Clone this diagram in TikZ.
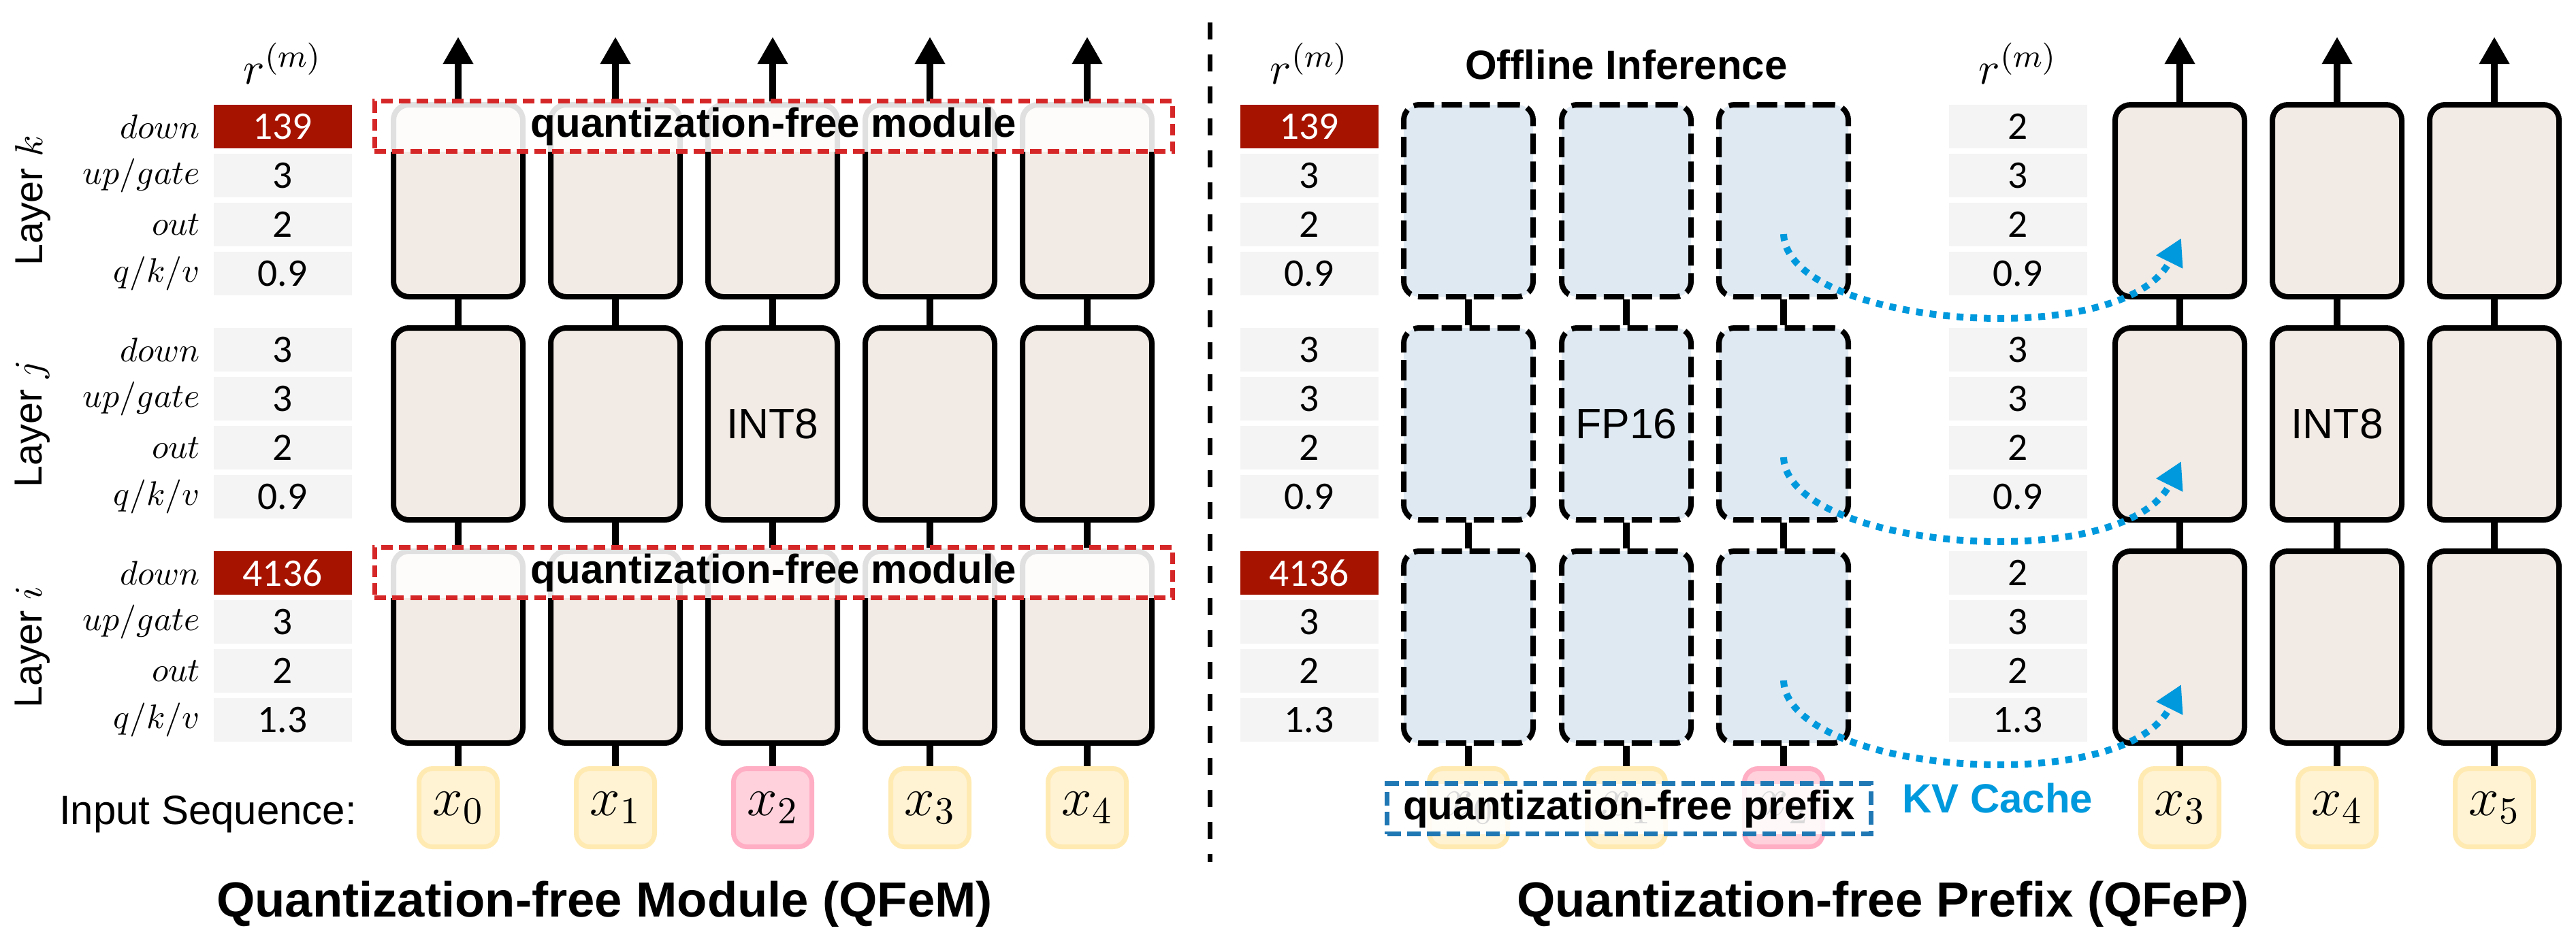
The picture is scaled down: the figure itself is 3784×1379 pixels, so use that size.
\documentclass[tikz,border=0pt]{standalone}
\usepackage{fix-cm}
\usepackage{fontspec}
\newfontfamily\arialf{Liberation Sans}
\newfontfamily\calf{Carlito}
\usetikzlibrary{arrows.meta}
\definecolor{cellgray}{HTML}{F4F4F4}
\definecolor{cellred}{HTML}{A61400}
\definecolor{blockfill}{HTML}{F2EAE4}
\definecolor{offfill}{HTML}{DFE9F2}
\definecolor{yfill}{HTML}{FFF3D4}
\definecolor{yborder}{HTML}{FFEAB2}
\definecolor{pfill}{HTML}{FFD1DC}
\definecolor{pborder}{HTML}{FFAEC4}
\definecolor{qred}{HTML}{D62728}
\definecolor{qblue}{HTML}{1F77B4}
\definecolor{kvblue}{HTML}{0099DD}
\begin{document}
\begin{tikzpicture}[x=0.2pt,y=-0.2pt,
  blk/.style={draw=black,line width=1.6pt,rounded corners=4.5pt,fill=blockfill,minimum width=38pt,minimum height=56.4pt,inner sep=0pt},
  offblk/.style={blk,fill=offfill,dash pattern=on 6pt off 2.2pt},
  conn/.style={line width=2pt},
  outarr/.style={line width=2pt,-{Triangle[length=8pt,width=8.4pt]}},
  tok/.style={draw=yborder,fill=yfill,line width=1.4pt,rounded corners=4pt,minimum size=23pt,inner sep=0pt,font=\fontsize{16}{18}\selectfont},
  ptok/.style={tok,draw=pborder,fill=pfill},
  cell/.style={fill=cellgray,minimum width=40.6pt,minimum height=12.8pt,inner sep=0pt,font=\calf\fontsize{11.5}{13}\selectfont},
  redcell/.style={cell,fill=cellred,text=white},
  rowlab/.style={anchor=east,inner sep=0pt,font=\fontsize{10}{12}\selectfont},
  laylab/.style={rotate=90,inner sep=0pt,font=\arialf\fontsize{11.5}{13}\selectfont},
  rmlab/.style={anchor=base,inner sep=0pt,font=\fontsize{13.5}{15}\selectfont},
  blktxt/.style={inner sep=0pt,font=\arialf\fontsize{12.5}{14}\selectfont},
  qfm/.style={draw=qred,line width=1.5pt,dash pattern=on 3.4pt off 1.8pt,fill=white,fill opacity=0.88,text opacity=1,minimum width=234.4pt,minimum height=14.8pt,inner sep=0pt,font=\arialf\bfseries\fontsize{12}{14}\selectfont},
  qfp/.style={qfm,draw=qblue,dash pattern=on 4pt off 1.8pt,fill opacity=0.85,minimum width=142.2pt},
  sepline/.style={line width=1.4pt,dash pattern=on 5pt off 4.4pt},
  kvarr/.style={draw=kvblue,line width=2pt,dash pattern=on 2pt off 2pt,-{Triangle[length=7.8pt,width=8.2pt]}},
  ttl/.style={anchor=base,inner sep=0pt,font=\arialf\bfseries\fontsize{14.5}{17}\selectfont},
  lbl/.style={inner sep=0pt,font=\arialf\fontsize{12}{14}\selectfont},
  blbl/.style={inner sep=0pt,font=\arialf\bfseries\fontsize{12}{14}\selectfont},
]
\useasboundingbox (0,0) rectangle (3784,1379);

% ---------- separator ----------
\coordinate (sepT) at (1777,33);
\coordinate (sepB) at (1777,1267);
\draw[sepline] (sepT) -- (sepB);

% ---------- layer labels ----------
\node[laylab] (lay-k) at (48,295) {Layer $k$};
\node[laylab] (lay-j) at (48,623) {Layer $j$};
\node[laylab] (lay-i) at (48,951) {Layer $i$};

% ---------- row labels ----------
\foreach \lay/\T in {k/150,j/478,i/806}{
  \node[rowlab] (rl-\lay-1) at (295,{\T+36}) {$down$};
  \node[rowlab] (rl-\lay-2) at (295,{\T+108}) {$up/gate$};
  \node[rowlab] (rl-\lay-3) at (295,{\T+180}) {$out$};
  \node[rowlab] (rl-\lay-4) at (295,{\T+252}) {$q/k/v$};
}

% ---------- r^(m) headers ----------
\node[rmlab] (rm-L) at (415,123) {$r^{(m)}$};
\node[rmlab] (rm-M) at (1923,123) {$r^{(m)}$};
\node[rmlab] (rm-R) at (2964,123) {$r^{(m)}$};

% ---------- tables ----------
\foreach \t/\x in {L/415,M/1923}{
  \node[redcell] (c\t-k1) at (\x,186) {139};
  \node[cell] (c\t-k2) at (\x,258) {3};
  \node[cell] (c\t-k3) at (\x,330) {2};
  \node[cell] (c\t-k4) at (\x,402) {0.9};
  \node[cell] (c\t-j1) at (\x,514) {3};
  \node[cell] (c\t-j2) at (\x,586) {3};
  \node[cell] (c\t-j3) at (\x,658) {2};
  \node[cell] (c\t-j4) at (\x,730) {0.9};
  \node[redcell] (c\t-i1) at (\x,842) {4136};
  \node[cell] (c\t-i2) at (\x,914) {3};
  \node[cell] (c\t-i3) at (\x,986) {2};
  \node[cell] (c\t-i4) at (\x,1058) {1.3};
}
\node[cell] (cR-k1) at (2964,186) {2};
\node[cell] (cR-k2) at (2964,258) {3};
\node[cell] (cR-k3) at (2964,330) {2};
\node[cell] (cR-k4) at (2964,402) {0.9};
\node[cell] (cR-j1) at (2964,514) {3};
\node[cell] (cR-j2) at (2964,586) {3};
\node[cell] (cR-j3) at (2964,658) {2};
\node[cell] (cR-j4) at (2964,730) {0.9};
\node[cell] (cR-i1) at (2964,842) {2};
\node[cell] (cR-i2) at (2964,914) {3};
\node[cell] (cR-i3) at (2964,986) {2};
\node[cell] (cR-i4) at (2964,1058) {1.3};

% ---------- QFeM blocks ----------
\foreach \c/\x/\n in {1/673/0,2/904/1,3/1135/2,4/1366/3,5/1597/4}{
  \node[blk] (bL-k-\c) at (\x,295) {};
  \node[blk] (bL-j-\c) at (\x,623) {};
  \node[blk] (bL-i-\c) at (\x,951) {};
  \draw[conn] (bL-k-\c) -- (bL-j-\c);
  \draw[conn] (bL-j-\c) -- (bL-i-\c);
  \coordinate (oL-\c) at (\x,54);
  \draw[outarr] (bL-k-\c) -- (oL-\c);
}
\foreach \c/\x/\n in {1/673/0,2/904/1,4/1366/3,5/1597/4}{
  \node[tok] (xL-\c) at (\x,1187) {$x_{\n}$};
  \draw[conn] (bL-i-\c) -- (xL-\c);
}
\node[ptok] (xL-3) at (1135,1187) {$x_{2}$};
\draw[conn] (bL-i-3) -- (xL-3);
\node[blktxt] (int8L) at (1135,623) {INT8};

\node[qfm] (qfm-k) at (1136.5,185.5) {quantization-free module};
\node[qfm] (qfm-i) at (1136.5,841.5) {quantization-free module};

\node[lbl,anchor=base west] (inseq) at (86,1211) {Input Sequence:};
\node[ttl] (ttlL) at (888,1347) {Quantization-free Module (QFeM)};

% ---------- QFeP offline blocks ----------
\node[blbl,anchor=base] (offinf) at (2389,116) {Offline Inference};
\foreach \c/\x/\n in {1/2157/0,2/2389/1,3/2620/2}{
  \node[offblk] (bO-k-\c) at (\x,295) {};
  \node[offblk] (bO-j-\c) at (\x,623) {};
  \node[offblk] (bO-i-\c) at (\x,951) {};
  \draw[conn] (bO-k-\c) -- (bO-j-\c);
  \draw[conn] (bO-j-\c) -- (bO-i-\c);
}
\node[blktxt] (fp16) at (2389,623) {FP16};
\foreach \c/\x/\n in {1/2157/0,2/2389/1}{
  \node[tok] (xO-\c) at (\x,1187) {$x_{\n}$};
  \draw[conn] (bO-i-\c) -- (xO-\c);
}
\node[ptok] (xO-3) at (2620,1187) {$x_{2}$};
\draw[conn] (bO-i-3) -- (xO-3);
\node[qfp] (qfp) at (2393,1188.5) {quantization-free prefix};

% ---------- QFeP right blocks ----------
\foreach \c/\x/\n in {1/3202/3,2/3433/4,3/3664/5}{
  \node[blk] (bR-k-\c) at (\x,295) {};
  \node[blk] (bR-j-\c) at (\x,623) {};
  \node[blk] (bR-i-\c) at (\x,951) {};
  \draw[conn] (bR-k-\c) -- (bR-j-\c);
  \draw[conn] (bR-j-\c) -- (bR-i-\c);
  \coordinate (oR-\c) at (\x,54);
  \draw[outarr] (bR-k-\c) -- (oR-\c);
  \node[tok] (xR-\c) at (\x,1187) {$x_{\n}$};
  \draw[conn] (bR-i-\c) -- (xR-\c);
}
\node[blktxt] (int8R) at (3433,623) {INT8};

% ---------- KV cache arrows ----------
\foreach \lay/\T in {k/150,j/478,i/806}{
  \coordinate (kvs-\lay) at (2620,{\T+194});
  \coordinate (kve-\lay) at (3204,{\T+200});
  \draw[kvarr] (kvs-\lay) .. controls +(5,136) and +(-84,170) .. (kve-\lay);
}
\node[blbl,anchor=base west,text=kvblue] (kvc) at (2793,1194) {KV Cache};
\node[ttl] (ttlR) at (2766,1347) {Quantization-free Prefix (QFeP)};
\end{tikzpicture}
\end{document}
